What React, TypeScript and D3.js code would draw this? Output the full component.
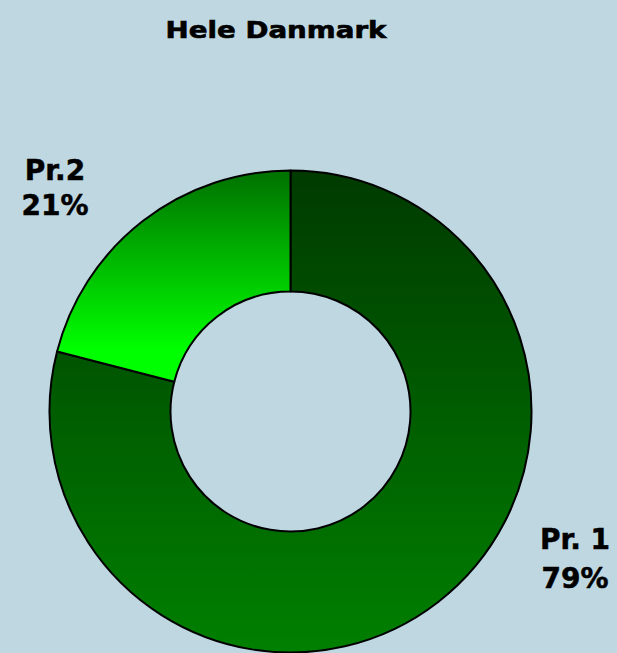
import React from "react";
import * as d3 from "d3";

const categories = ["Pr. 1", "Pr.2"];
const values = [79, 21];
const percentLabels = ["79%", "21%"];
const title = "Hele Danmark";

const W = 617;
const H = 653;
const cx = 290.5;
const cy = 411.5;
const outerR = 241;
const innerR = 120;

const gradStops = [
  ["#003a00", "#008000"],
  ["#007000", "#00ff00"],
];

const labelPos = [
  { x: 575, y1: 549, y2: 588 },
  { x: 55, y1: 180, y2: 215 },
];

export default function App() {
  const pie = d3
    .pie<number>()
    .sort(null)
    .startAngle(0)
    .endAngle(2 * Math.PI)
    .value((d) => d);
  const arcs = pie(values);
  const arc = d3.arc<d3.PieArcDatum<number>>().innerRadius(innerR).outerRadius(outerR);

  return (
    <svg
      width={W}
      height={H}
      style={{ position: "absolute", left: 0, top: 0, background: "#bfd7e0" }}
    >
      <defs>
        {gradStops.map((g, i) => (
          <linearGradient key={i} id={`g${i}`} x1="0" y1="0" x2="0" y2="1">
            <stop offset="0%" stopColor={g[0]} />
            <stop offset={i === 1 ? "85%" : "100%"} stopColor={g[1]} />
          </linearGradient>
        ))}
      </defs>
      <rect x={0} y={0} width={W} height={H} fill="#bfd7e0" />
      <text
        x={276}
        y={38}
        textAnchor="middle"
        fontFamily="DejaVu Sans, Verdana, sans-serif"
        fontWeight="bold"
        fontSize={22.5}
        textLength={221}
        lengthAdjust="spacingAndGlyphs"
        fill="#000"
        stroke="#000"
        strokeWidth={0.6}
      >
        {title}
      </text>
      <g transform={`translate(${cx},${cy})`}>
        {arcs.map((a, i) => (
          <path
            key={i}
            d={arc(a) || ""}
            fill={`url(#g${i})`}
            stroke="#000"
            strokeWidth={2}
            strokeLinejoin="round"
          />
        ))}
      </g>
      {categories.map((c, i) => (
        <g
          key={c}
          fontFamily="DejaVu Sans, Verdana, sans-serif"
          fontWeight="bold"
          fontSize={28}
          fill="#000"
          stroke="#000"
          strokeWidth={0.5}
        >
          <text x={labelPos[i].x} y={labelPos[i].y1} textAnchor="middle">
            {c}
          </text>
          <text x={labelPos[i].x} y={labelPos[i].y2} textAnchor="middle">
            {percentLabels[i]}
          </text>
        </g>
      ))}
    </svg>
  );
}
